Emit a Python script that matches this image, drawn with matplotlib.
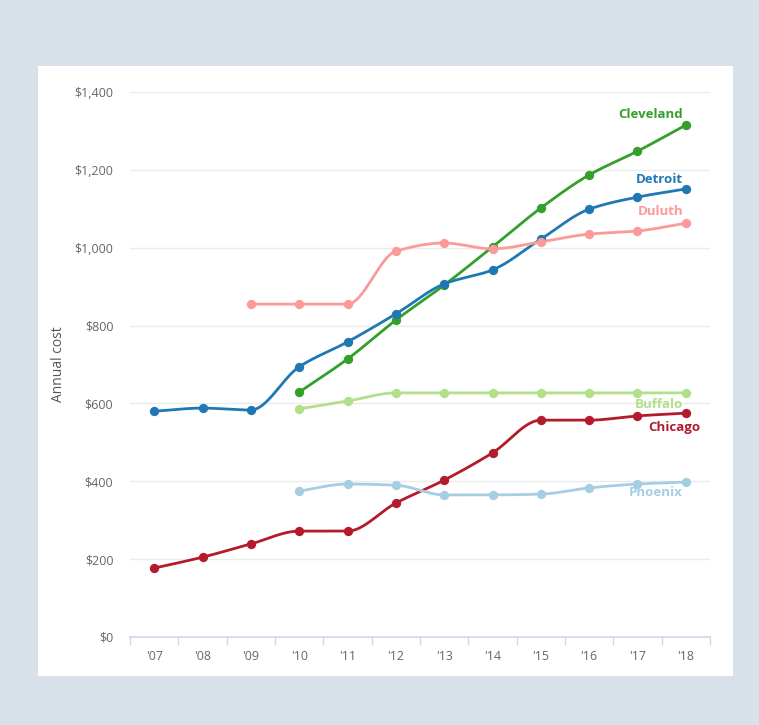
import numpy as np
import matplotlib.pyplot as plt
from matplotlib.patches import Rectangle

years = ["'07", "'08", "'09", "'10", "'11", "'12", "'13", "'14", "'15", "'16", "'17", "'18"]

# values per city, None where no data
detroit = [580, 588, 583, 694, 758, 830, 907, 943, 1022, 1099, 1130, 1151]
cleveland = [None, None, None, 629, 714, 814, 904, 1002, 1102, 1187, 1248, 1315]
duluth = [None, None, 855, 855, 855, 991, 1012, 997, 1015, 1035, 1043, 1063]
buffalo = [None, None, None, 586, 606, 627, 627, 627, 627, 627, 627, 627]
chicago = [177, 205, 239, 272, 272, 344, 403, 473, 557, 557, 568, 575]
phoenix = [None, None, None, 375, 393, 390, 365, 365, 367, 383, 393, 398]

series = [
    ("Cleveland", cleveland, "#33a02c"),
    ("Detroit", detroit, "#1f78b4"),
    ("Duluth", duluth, "#fb9a99"),
    ("Buffalo", buffalo, "#b2df8a"),
    ("Chicago", chicago, "#b31b2c"),
    ("Phoenix", phoenix, "#a6cee3"),
]


def monotone(x, y, n=30):
    # monotone cubic (Fritsch-Carlson) like d3.curveMonotoneX
    x = np.asarray(x, float)
    y = np.asarray(y, float)
    h = np.diff(x)
    d = np.diff(y) / h
    m = np.zeros_like(y)
    m[0] = d[0]
    m[-1] = d[-1]
    for i in range(1, len(y) - 1):
        if d[i - 1] * d[i] <= 0:
            m[i] = 0
        else:
            w1 = 2 * h[i] + h[i - 1]
            w2 = h[i] + 2 * h[i - 1]
            m[i] = (w1 + w2) / (w1 / d[i - 1] + w2 / d[i])
    xs, ys = [], []
    for i in range(len(h)):
        t = np.linspace(0, 1, n)
        h00 = 2 * t**3 - 3 * t**2 + 1
        h10 = t**3 - 2 * t**2 + t
        h01 = -2 * t**3 + 3 * t**2
        h11 = t**3 - t**2
        xs.append(x[i] + t * h[i])
        ys.append(h00 * y[i] + h10 * h[i] * m[i] + h01 * y[i + 1] + h11 * h[i] * m[i + 1])
    return np.concatenate(xs), np.concatenate(ys)


plt.rcParams['font.family'] = ['Open Sans', 'DejaVu Sans']

fig = plt.figure(figsize=(7.59, 7.25), dpi=100)
fig.patch.set_facecolor('#d8e0e9')
fig.patches.append(Rectangle((38 / 759, 1 - 676 / 725), (733 - 38) / 759, (676 - 66) / 725,
                             transform=fig.transFigure, facecolor='white', edgecolor='none', zorder=-10))

ax = fig.add_axes([130 / 759, 1 - 637 / 725, 580 / 759, (637 - 92) / 725])
ax.set_facecolor('none')

for name, vals, col in series:
    idx = [i for i, v in enumerate(vals) if v is not None]
    yv = [vals[i] for i in idx]
    xs, ys = monotone(idx, yv)
    ax.plot(xs, ys, color=col, lw=2, zorder=3, solid_capstyle='round')
    ax.scatter(idx, yv, s=45, color=col, zorder=4, linewidths=0)

# labels at the end of each line
labels = {
    "Cleveland": (10.94, 1343),
    "Detroit": (10.94, 1176),
    "Duluth": (10.94, 1092),
    "Buffalo": (10.94, 596),
    "Chicago": (11.31, 537),
    "Phoenix": (10.94, 372),
}
for name, vals, col in series:
    lx, ly = labels[name]
    ax.text(lx, ly, name, color=col, fontsize=9.5, fontweight='bold', ha='right', va='center', zorder=5)

ax.set_xlim(-0.5, 11.5)
ax.set_ylim(0, 1400)
ax.set_yticks(range(0, 1401, 200))
ax.set_yticklabels(['$0'] + ['${:,}'.format(v) for v in range(200, 1401, 200)])
ax.set_xticks(range(12))
ax.set_xticklabels(years)
ax.set_xticks(np.arange(-0.5, 12, 1), minor=True)
ax.tick_params(axis='x', which='major', length=0, pad=9, labelsize=9, labelcolor='#666666')
ax.tick_params(axis='x', which='minor', length=6, color='#cdd7e6', width=1)
ax.tick_params(axis='y', length=0, pad=12, labelsize=9, labelcolor='#666666')
ax.grid(axis='y', color='#ebebeb', lw=1)
ax.set_axisbelow(True)
for s in ['top', 'right', 'left']:
    ax.spines[s].set_visible(False)
ax.spines['bottom'].set_color('#cdd7e6')
ax.spines['bottom'].set_linewidth(1.2)
ax.set_ylabel('Annual cost', fontsize=10, color='#555555', labelpad=6)

fig.savefig('out.png', dpi=100, facecolor=fig.get_facecolor())
